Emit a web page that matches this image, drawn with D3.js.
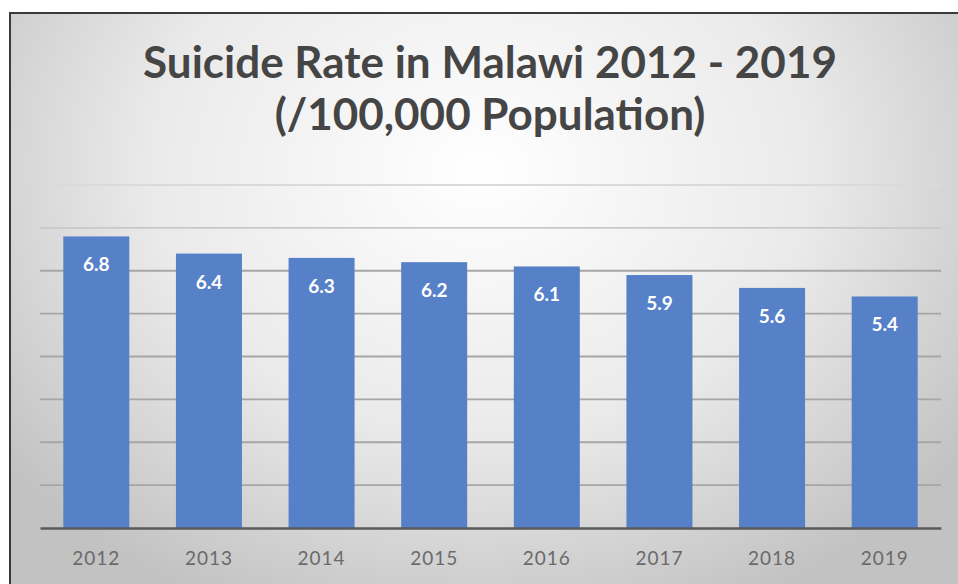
<!DOCTYPE html>
<html>
<head>
<meta charset="utf-8">
<script src="https://cdn.jsdelivr.net/npm/d3@7"></script>
<style>
html,body{margin:0;padding:0;background:#fff;}
svg{display:block;}
</style>
</head>
<body>
<svg id="chart" width="958" height="584"></svg>
<script>
const years = ["2012","2013","2014","2015","2016","2017","2018","2019"];
const rates = [6.8, 6.4, 6.3, 6.2, 6.1, 5.9, 5.6, 5.4];
const gridTicks = [1,2,3,4,5,6,7,8];
const titleLines = ["Suicide Rate in Malawi 2012 - 2019", "(/100,000 Population)"];

const svg = d3.select("#chart");
const W = 958, H = 584;

const defs = svg.append("defs");
const rg = defs.append("radialGradient").attr("id","bg")
  .attr("gradientUnits","userSpaceOnUse")
  .attr("cx", 480).attr("cy", 170).attr("r", 600)
  .attr("gradientTransform","translate(480,170) scale(1,0.8) translate(-480,-170)");
rg.append("stop").attr("offset","0%").attr("stop-color","#ffffff");
rg.append("stop").attr("offset","55%").attr("stop-color","#eaeaea");
rg.append("stop").attr("offset","100%").attr("stop-color","#c2c2c2");

// frame
svg.append("rect").attr("x",10).attr("y",13).attr("width",W+20).attr("height",H+20)
  .attr("fill","url(#bg)").attr("stroke","#3a3a3a").attr("stroke-width",2);

const margin = {left:40, right:17, top:185, bottom:56};
const x = d3.scaleBand().domain(years)
  .range([margin.left, W - margin.right])
  .paddingInner(0.414).paddingOuter(0.207);
const y = d3.scaleLinear().domain([0, 8]).range([H - margin.bottom, margin.top]);

// gridlines
svg.append("g").selectAll("line").data(gridTicks).join("line")
  .attr("x1", margin.left).attr("x2", W - margin.right)
  .attr("y1", d => y(d)).attr("y2", d => y(d))
  .attr("stroke", d => d >= 8 ? "#dadada" : (d >= 7 ? "#c8c8c8" : "#a6a6a6"))
  .attr("stroke-width", 1.8);

// bars
svg.append("g").selectAll("rect").data(rates).join("rect")
  .attr("x", (d,i) => x(years[i]))
  .attr("width", x.bandwidth())
  .attr("y", d => y(d))
  .attr("height", d => y(0) - y(d))
  .attr("fill", "#5680c8");

// baseline axis
const xAxis = d3.axisBottom(x).tickSize(0).tickPadding(24);
const gx = svg.append("g").attr("transform", `translate(0,${y(0)})`).call(xAxis);
gx.select(".domain").attr("stroke","#5a5a5a").attr("stroke-width",2.6);
gx.selectAll("text")
  .attr("font-family","Lato, 'Open Sans', sans-serif")
  .attr("font-size", 19)
  .attr("letter-spacing", 1)
  .attr("fill","#6a6a6a");

// value labels
svg.append("g").selectAll("text").data(rates).join("text")
  .attr("x", (d,i) => x(years[i]) + x.bandwidth()/2)
  .attr("y", d => y(d) + 35)
  .attr("text-anchor","middle")
  .attr("font-family","Lato, 'Open Sans', sans-serif")
  .attr("font-weight","bold")
  .attr("font-size", 19)
  .attr("fill","#ffffff")
  .text(d => d.toFixed(1));

// title
svg.append("g").selectAll("text").data(titleLines).join("text")
  .attr("x", 490)
  .attr("y", (d,i) => 78 + i*52)
  .attr("text-anchor","middle")
  .attr("font-family","Lato, 'Open Sans', sans-serif")
  .attr("font-weight","bold")
  .attr("font-size", 44)
  .attr("fill","#454545")
  .text(d => d);
</script>
</body>
</html>
